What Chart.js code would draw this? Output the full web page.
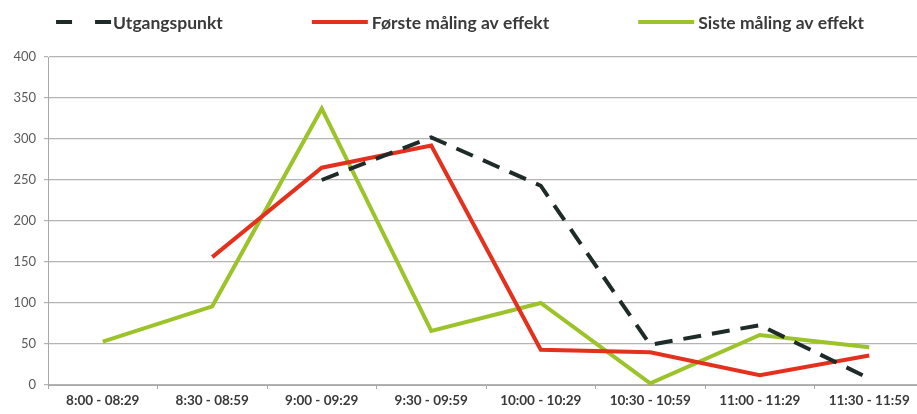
<!DOCTYPE html>
<html>
<head>
<meta charset="utf-8">
<script src="https://cdn.jsdelivr.net/npm/chart.js@4/dist/chart.umd.min.js"></script>
<style>
  html, body { margin: 0; padding: 0; background: #fff; overflow: hidden; }
  #wrap { position: relative; width: 930px; height: 414px; }
</style>
</head>
<body>
<div id="wrap"><canvas id="c"></canvas></div>
<script>
const categories = ["8:00 - 08:29", "8:30 - 08:59", "9:00 - 09:29", "9:30 - 09:59", "10:00 - 10:29", "10:30 - 10:59", "11:00 - 11:29", "11:30 - 11:59"];
const seriesNames = ["Utgangspunkt", "Første måling av effekt", "Siste måling av effekt"];
const utgangspunkt = [null, null, 250, 302, 243, 49, 73, 8];
const forsteMaling = [null, 156, 265, 292, 43, 40, 12, 36];
const sisteMaling = [53, 96, 337, 66, 100, 2, 61, 46];
const yTicks = [0, 50, 100, 150, 200, 250, 300, 350, 400];

const legendPlugin = {
  id: 'customLegend',
  afterDraw(chart) {
    const ctx = chart.ctx;
    const ds = chart.data.datasets;
    ctx.save();
    ctx.font = 'bold 17.5px Lato';
    const sampleW = 56, itemGap = 89;
    const widths = ds.map(d => sampleW + (d.legendTextGap || 0) + ctx.measureText(d.label).width);
    const total = widths.reduce((a, b) => a + b, 0) + itemGap * (ds.length - 1);
    let x = 460 - total / 2;
    const y = 22;
    ds.forEach((d, i) => {
      ctx.beginPath();
      ctx.strokeStyle = d.borderColor;
      ctx.lineWidth = d.borderWidth;
      ctx.setLineDash(d.legendDash || []);
      ctx.lineCap = 'butt';
      ctx.moveTo(x, y);
      ctx.lineTo(x + sampleW, y);
      ctx.stroke();
      ctx.setLineDash([]);
      ctx.fillStyle = '#3a3a3a';
      ctx.textBaseline = 'middle';
      ctx.textAlign = 'left';
      ctx.fillText(d.label, x + sampleW + (d.legendTextGap || 0), y + 1);
      x += widths[i] + itemGap;
    });
    ctx.restore();
  }
};

new Chart(document.getElementById('c'), {
  type: 'line',
  data: {
    labels: categories,
    datasets: [
      { label: seriesNames[0], data: utgangspunkt, borderColor: '#1e2b29', borderWidth: 4, borderDash: [18, 11], legendDash: [16, 23], legendTextGap: 1, pointRadius: 0, tension: 0, fill: false },
      { label: seriesNames[1], data: forsteMaling, borderColor: '#e3311d', borderWidth: 4, legendTextGap: 4, pointRadius: 0, tension: 0, fill: false },
      { label: seriesNames[2], data: sisteMaling, borderColor: '#9cc32a', borderWidth: 4, legendTextGap: 4, pointRadius: 0, tension: 0, fill: false }
    ]
  },
  options: {
    responsive: true,
    maintainAspectRatio: false,
    animation: false,
    layout: { padding: { top: 57, right: 6, bottom: 0, left: 0 } },
    plugins: { legend: { display: false }, tooltip: { enabled: false } },
    scales: {
      x: {
        offset: true,
        grid: { display: true, drawOnChartArea: false, drawTicks: true, tickLength: 4, color: '#a8a8a8', offset: true },
        border: { display: true, color: '#a8a8a8', width: 1 },
        ticks: { color: '#3a3a3a', font: { family: 'Lato', size: 13.5, weight: 'bold' }, padding: 4, maxRotation: 0, autoSkip: false },
        afterFit(scale) { scale.height = 29; }
      },
      y: {
        min: 0, max: 400,
        afterBuildTicks(scale) { scale.ticks = yTicks.map(v => ({ value: v })); },
        grid: { color: '#b4b4b4', lineWidth: 1.2, drawTicks: true, tickLength: 4 },
        border: { display: true, color: '#a8a8a8', width: 1 },
        ticks: { color: '#5a5a5a', font: { family: 'Lato', size: 13 }, padding: 8 },
        afterFit(scale) { scale.width = 48; }
      }
    }
  },
  plugins: [legendPlugin]
});
</script>
</body>
</html>
